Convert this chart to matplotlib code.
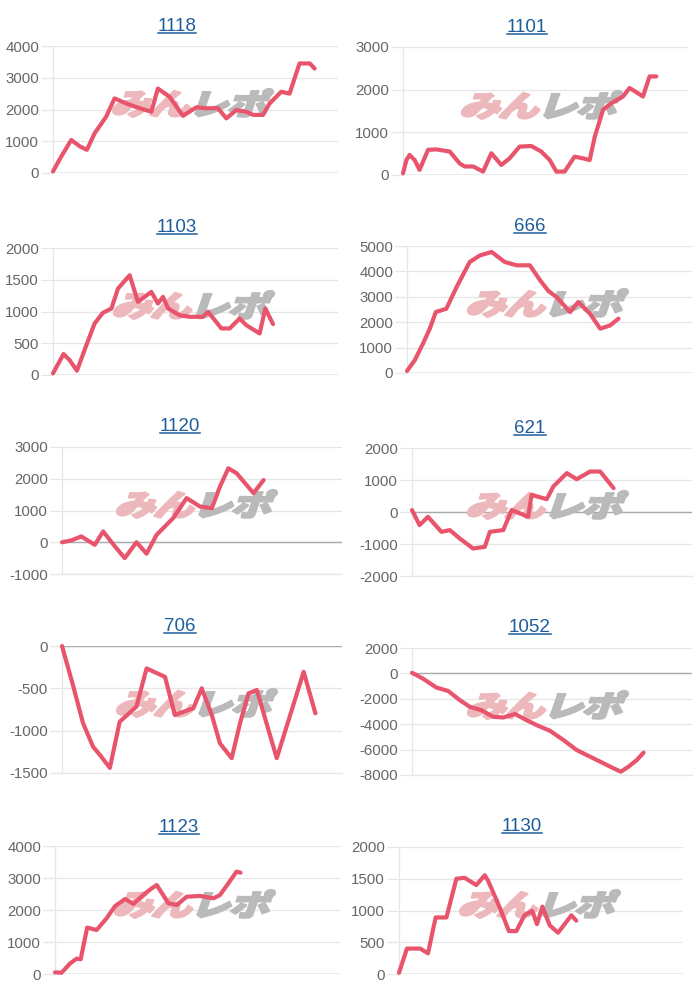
import matplotlib
matplotlib.use("Agg")
import matplotlib.pyplot as plt
from matplotlib.textpath import TextPath
from matplotlib.font_manager import FontProperties
from matplotlib.patches import PathPatch
from matplotlib.transforms import Affine2D
from matplotlib.lines import Line2D

# ---------------- data ----------------
titles = ["1118", "1101", "1103", "666", "1120", "621", "706", "1052", "1123", "1130"]

x_1118 = [0, 2.9, 6.4, 9.4, 11.9, 14.6, 18.7, 21.6, 25.7, 30.4, 34.5, 36.8, 40.9, 45.6,
          50.3, 53.8, 57.9, 60.8, 64.3, 67.8, 70.2, 73.7, 76.0, 80.1, 83.0, 86.5, 90.1, 91.8]
y_1118 = [50, 520, 1040, 840, 730, 1250, 1780, 2350, 2190, 2040, 1930, 2660, 2400, 1800,
          2070, 2040, 2040, 1720, 1980, 1930, 1830, 1830, 2190, 2560, 2500, 3450, 3450, 3290]

x_1101 = [0, 1.2, 2.3, 4.1, 5.8, 8.8, 11.7, 16.4, 19.9, 21.6, 24.6, 28.1, 31.0, 34.5, 37.4, 40.9,
          45.0, 48.5, 51.5, 53.8, 56.7, 60.2, 63.2, 65.5, 67.3, 70.2, 73.1, 77.2, 79.5, 84.2, 86.5, 88.9]
y_1101 = [40, 350, 470, 350, 120, 590, 600, 550, 270, 200, 200, 80, 510, 235, 390, 665,
          680, 550, 350, 80, 80, 430, 390, 350, 900, 1530, 1680, 1840, 2040, 1840, 2310, 2310]

x_1103 = [0, 3.7, 5.8, 8.4, 11.5, 14.6, 17.5, 20.5, 22.8, 26.9, 29.8, 34.5, 36.8, 38.6, 40.4,
          44.4, 48.0, 52.6, 54.4, 59.1, 62.0, 65.5, 67.8, 72.5, 74.5, 77.2]
y_1103 = [26, 330, 236, 68, 445, 812, 979, 1047, 1361, 1571, 1152, 1309, 1126, 1230, 1047,
          942, 916, 916, 995, 733, 733, 890, 785, 654, 1047, 801]

x_666 = [0, 2.7, 5.6, 8.0, 10.1, 13.8, 17.4, 22.0, 25.6, 29.7, 34.3, 38.5, 43.1, 46.7, 49.6,
         52.5, 57.2, 60.1, 64.2, 67.8, 71.3, 74.2]
y_666 = [80, 500, 1155, 1745, 2400, 2530, 3385, 4370, 4630, 4765, 4370, 4240, 4240, 3650, 3230,
         2990, 2400, 2795, 2335, 1745, 1875, 2140]

x_1120 = [0, 3.3, 6.9, 11.7, 14.7, 18.9, 22.4, 26.6, 30.2, 33.8, 39.7, 44.5, 49.3, 53.5, 56.4,
          59.4, 62.4, 68.4, 72.0]
y_1120 = [0, 58, 183, -80, 340, -130, -500, 0, -360, 235, 760, 1390, 1125, 1070, 1750,
          2330, 2170, 1545, 1960]

x_621 = [0, 2.7, 5.7, 10.5, 13.5, 17.1, 21.8, 26.0, 27.8, 32.6, 35.6, 41.5, 42.7, 48.1, 50.5,
         55.3, 58.8, 63.6, 67.2, 72.0]
y_621 = [60, -410, -150, -620, -565, -830, -1140, -1090, -620, -565, 60, -150, 535, 400, 800,
         1215, 1025, 1265, 1265, 745]

x_706 = [0, 3.9, 7.5, 11.1, 13.5, 17.1, 20.6, 26.6, 30.2, 36.8, 40.3, 46.9, 49.9, 53.5, 56.4,
         60.6, 63.6, 66.6, 69.6, 73.2, 76.7, 81.5, 86.3, 90.5]
y_706 = [0, -460, -910, -1190, -1285, -1440, -895, -715, -265, -365, -815, -735, -500, -815, -1150,
         -1325, -910, -560, -520, -930, -1325, -815, -305, -795]

x_1052 = [0, 3.9, 8.7, 12.9, 17.1, 20.6, 24.8, 29.0, 32.6, 36.8, 40.9, 44.5, 49.3, 54.1, 58.8,
          63.6, 68.4, 72.0, 74.6, 77.3, 80.3, 82.7]
y_1052 = [50, -410, -1115, -1380, -2110, -2630, -2900, -3420, -3470, -3200, -3680, -4070, -4520,
          -5250, -6030, -6560, -7080, -7475, -7740, -7345, -6820, -6240]

x_1123 = [0, 2.3, 5.3, 7.6, 9.0, 11.3, 14.6, 18.1, 21.1, 24.6, 27.5, 31.0, 33.9, 35.7, 39.8,
          42.7, 46.2, 50.9, 55.6, 57.9, 60.8, 63.7, 65.1]
y_1123 = [50, 40, 330, 480, 460, 1450, 1375, 1740, 2125, 2345, 2190, 2470, 2675, 2780, 2210,
          2155, 2415, 2440, 2365, 2470, 2830, 3200, 3165]

x_1130 = [0, 2.8, 7.5, 10.2, 12.9, 16.7, 20.2, 23.1, 27.2, 30.2, 31.3, 35.4, 38.7, 41.3, 44.2,
          46.9, 48.6, 50.5, 53.1, 56.0, 60.7, 62.4]
y_1130 = [20, 400, 400, 325, 890, 890, 1500, 1515, 1400, 1555, 1475, 1055, 675, 675, 925,
          995, 785, 1060, 765, 650, 925, 840]

xs = [x_1118, x_1101, x_1103, x_666, x_1120, x_621, x_706, x_1052, x_1123, x_1130]
ys = [y_1118, y_1101, y_1103, y_666, y_1120, y_621, y_706, y_1052, y_1123, y_1130]

# y axis (min, max, step)
y_axes = [(0, 4000, 1000), (0, 3000, 1000), (0, 2000, 500), (0, 5000, 1000),
          (-1000, 3000, 1000), (-2000, 2000, 1000), (-1500, 0, 500), (-8000, 2000, 2000),
          (0, 4000, 1000), (0, 2000, 500)]

# ---------------- layout (pixels) ----------------
W, H = 700, 1000
boxes = [(53, 46, 338, 173), (403, 47, 688, 175),
         (53, 248, 338, 375), (407, 246, 692, 373),
         (62, 447, 342, 574), (412, 448, 692, 576),
         (62, 646, 342, 773), (412, 648, 692, 775),
         (55, 846, 340, 974), (399, 847, 683, 974)]
title_pos = [(177, 31), (527, 32), (177, 232), (530, 231), (180, 431),
             (530, 433), (180, 631), (530, 632), (179, 832), (522, 831)]
wm_pos = [(193, 103), (542, 105), (194, 305), (548, 303), (197, 504),
          (548, 505), (197, 703), (548, 705), (195, 904), (540, 904)]

LINE_COLOR = "#e9546d"
GRID_COLOR = "#e6e6e6"
ZERO_COLOR = "#ababab"
TITLE_COLOR = "#1f5e9c"
TICK_COLOR = "#666666"

plt.rcParams["font.family"] = ["Liberation Sans", "DejaVu Sans"]

fig = plt.figure(figsize=(W / 100, H / 100), dpi=100)
fig.patch.set_facecolor("white")

wm_font = FontProperties(family="Noto Sans CJK JP", weight="heavy")
wm_chars = ["み", "ん", "レ", "ポ"]
wm_colors = ["#edb8bc", "#edb8bc", "#bababa", "#bababa"]


def add_watermark(ax, cx, cy, width=160, height=28):
    paths = [TextPath((i * 0.95, 0), ch, size=1, prop=wm_font) for i, ch in enumerate(wm_chars)]
    skew = Affine2D().skew_deg(14, 0)
    exts = [skew.transform_path(p).get_extents() for p in paths]
    x0 = min(e.x0 for e in exts)
    x1 = max(e.x1 for e in exts)
    y0 = min(e.y0 for e in exts)
    y1 = max(e.y1 for e in exts)
    sx = width / (x1 - x0)
    sy = height / (y1 - y0)
    trf = (Affine2D().skew_deg(14, 0).translate(-x0, -y0).scale(sx, sy)
           .translate(cx - width / 2, H - cy - height / 2))
    for p, col in zip(paths, wm_colors):
        patch = PathPatch(p, transform=trf, facecolor=col, edgecolor=col, linewidth=1.6,
                          joinstyle="round", zorder=1, clip_on=False)
        ax.add_artist(patch)


for i in range(10):
    l, t, r, b = boxes[i]
    ax = fig.add_axes([l / W, 1 - b / H, (r - l) / W, (b - t) / H])
    ymin, ymax, step = y_axes[i]
    ax.set_xlim(0, 100)
    ax.set_ylim(ymin, ymax)
    ticks = list(range(ymin, ymax + 1, step))
    ax.set_yticks(ticks)
    ax.set_yticklabels([str(v) for v in ticks])
    ax.set_xticks([])
    ax.set_axisbelow(True)
    ax.yaxis.grid(True, color=GRID_COLOR, linewidth=0.9)
    for s in ["top", "right", "bottom"]:
        ax.spines[s].set_visible(False)
    ax.spines["left"].set_color(GRID_COLOR)
    ax.spines["left"].set_linewidth(0.9)
    ax.tick_params(axis="y", length=9, width=0.9, color=GRID_COLOR,
                   labelsize=10.8, labelcolor=TICK_COLOR, pad=1)
    ax.axhline(0, color=ZERO_COLOR, linewidth=1.0, zorder=0.6)
    if ymin != 0:
        ax.axhline(ymin, color=GRID_COLOR, linewidth=0.9, zorder=0.6, clip_on=False)
    add_watermark(ax, *wm_pos[i])
    ax.plot(xs[i], ys[i], color=LINE_COLOR, linewidth=3.0, solid_joinstyle="round",
            solid_capstyle="round", zorder=3, clip_on=False)

renderer = fig.canvas.get_renderer()
for i in range(10):
    cx, by = title_pos[i]
    txt = fig.text(cx / W, 1 - by / H, titles[i], ha="center", va="baseline",
                   fontsize=13.5, color=TITLE_COLOR)
    bb = txt.get_window_extent(renderer)
    uy = (H - by - 2.2) / H
    fig.add_artist(Line2D([bb.x0 / W, bb.x1 / W], [uy, uy], transform=fig.transFigure,
                          color=TITLE_COLOR, linewidth=1.1))

fig.savefig("out.png", dpi=100, facecolor="white")
